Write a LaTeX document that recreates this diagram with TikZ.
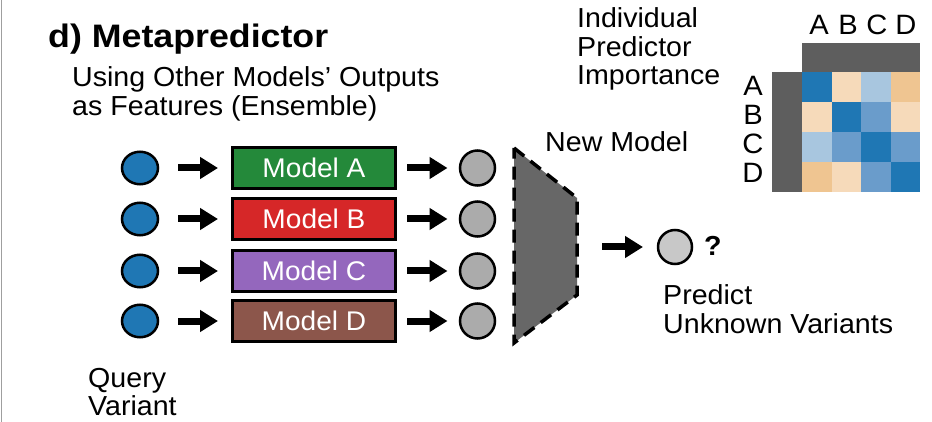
\documentclass[tikz,border=0pt]{standalone}
\usepackage{fontspec}
\setmainfont[FakeStretch=1.04]{Liberation Sans}
\newfontfamily\titlefont[FakeStretch=1.1]{Liberation Sans}
\usetikzlibrary{arrows.meta,shapes.geometric}
\definecolor{qblue}{HTML}{1F77B4}
\definecolor{mgreen}{HTML}{24893A}
\definecolor{mred}{HTML}{D62728}
\definecolor{mpurple}{HTML}{9467BD}
\definecolor{mbrown}{HTML}{8C564B}
\definecolor{ogray}{HTML}{ABABAB}
\definecolor{fgray}{HTML}{C8C8C8}
\definecolor{trapgray}{HTML}{676767}
\definecolor{bargray}{HTML}{5E5E5E}
\definecolor{cdark}{HTML}{1F77B4}
\definecolor{cmid}{HTML}{6A9CCB}
\definecolor{clight}{HTML}{A8C6DF}
\definecolor{cpeach}{HTML}{EFC591}
\definecolor{clpeach}{HTML}{F6DABA}
\tikzset{
  txt/.style={anchor=base west, inner sep=0pt, font=\fontsize{27.5}{30}\selectfont},
  lbl/.style={anchor=base, inner sep=0pt, font=\fontsize{28}{30}\selectfont},
  query/.style={ellipse, draw=black, line width=2.5pt, fill=qblue, minimum width=36pt, minimum height=32.5pt, inner sep=0pt, outer sep=0pt},
  outc/.style={circle, draw=black, line width=2.5pt, fill=ogray, minimum size=35pt, inner sep=0pt, outer sep=0pt},
  modelbox/.style={rectangle, draw=black, line width=2.5pt, minimum width=163pt, minimum height=41pt, inner sep=0pt, outer sep=0pt, text=white, font=\fontsize{27}{28}\selectfont},
  bigarrow/.style={line width=7pt, -{Triangle[length=18pt,width=21pt]}},
}
\begin{document}
\begin{tikzpicture}[x=1pt,y=-1pt]
\useasboundingbox (0,0) rectangle (932,422);
\fill[white] (0,0) rectangle (932,422);
\draw[gray!75, line width=1.5pt] (1.5,0) -- (1.5,422);

% title and subtitle
\node[anchor=base west, inner sep=0pt, font=\titlefont\bfseries\fontsize{32.5}{36}\selectfont] (title) at (48,48) {d) Metapredictor};
\node[txt] (sub1) at (72,87) {Using Other Models’ Outputs};
\node[txt] (sub2) at (72,116) {as Features (Ensemble)};

% rows
\foreach \i/\y/\c/\t in {1/168/mgreen/A, 2/219/mred/B, 3/271/mpurple/C, 4/321/mbrown/D}{
  \node[query] (q\i) at (140,\y) {};
  \node[modelbox, fill=\c] (m\i) at (314,\y) {Model \t};
  \node[outc] (o\i) at (477.5,\y) {};
  \draw[bigarrow, shorten <=20pt, shorten >=14.5pt] (q\i) -- (m\i);
  \draw[bigarrow, shorten <=11.5pt, shorten >=12.5pt] (m\i) -- (o\i);
}

% new model trapezoid
\coordinate (t1) at (514,148);
\coordinate (t2) at (577,198);
\coordinate (t3) at (577,295);
\coordinate (t4) at (514,343);
\coordinate (nm) at (577,247);
\filldraw[fill=trapgray, draw=black, line width=3.5pt, dash pattern=on 13pt off 8pt, line join=miter]
  (t1) -- (t2) -- (t3) -- (t4) -- cycle;
\node[txt] (newmodel) at (545,152) {New Model};

% output
\node[outc, fill=fgray, minimum size=34pt] (out) at (675,247) {};
\draw[bigarrow, shorten <=25pt, shorten >=15pt] (nm) -- (out);
\node[anchor=base west, inner sep=0pt, font=\bfseries\fontsize{27.5}{30}\selectfont] (qm) at (704,256) {?};
\node[txt] (pred1) at (663,305) {Predict};
\node[txt] (pred2) at (663,333) {Unknown Variants};

% query variant
\node[txt] (qv1) at (88,387) {Query};
\node[txt] (qv2) at (88,415) {Variant};

% importance matrix
\node[txt] (imp1) at (577,28) {Individual};
\node[txt] (imp2) at (577,56.5) {Predictor};
\node[txt] (imp3) at (577,85) {Importance};
\fill[bargray] (802,43) rectangle (920,72);
\fill[bargray] (772,72) rectangle (802,192);
\foreach \r/\cols in {0/{cdark,clpeach,clight,cpeach},1/{clpeach,cdark,cmid,clpeach},2/{clight,cmid,cdark,cmid},3/{cpeach,clpeach,cmid,cdark}}{
  \foreach \cc [count=\k from 0] in \cols {
    \fill[\cc] ({802+29.5*\k},{72+30*\r}) rectangle ({802+29.5*(\k+1)},{72+30*(\r+1)});
  }
}
\foreach \t [count=\k from 0] in {A,B,C,D}{
  \node[lbl] (col\t) at ({819+29*\k},35) {\t};
  \node[lbl] (row\t) at (753,{96+29*\k}) {\t};
}
\end{tikzpicture}
\end{document}
